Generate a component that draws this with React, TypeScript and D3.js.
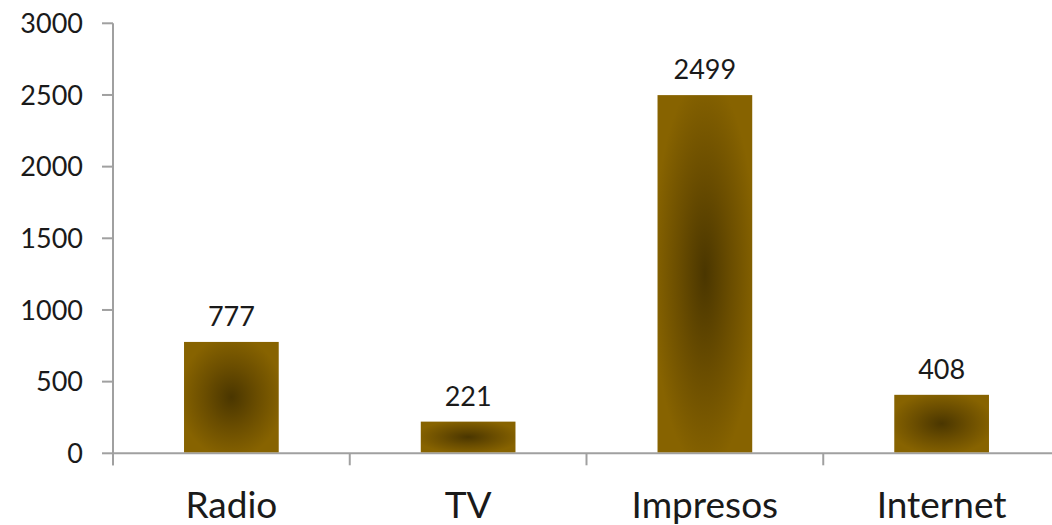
import React from "react";
import * as d3 from "d3";

const categories = ["Radio", "TV", "Impresos", "Internet"];
const values = [777, 221, 2499, 408];
const yTicks = [0, 500, 1000, 1500, 2000, 2500, 3000];

const W = 1052;
const H = 525;
const x0 = 113;
const x1 = 1060;
const yBottom = 453.3;
const yTop = 23.3;

export default function App() {
  const x = d3.scaleBand<string>().domain(categories).range([x0, x1]).paddingInner(0.6).paddingOuter(0.3);
  const y = d3.scaleLinear().domain([0, 3000]).range([yBottom, yTop]);
  const step = (x1 - x0) / categories.length;
  const font = "Lato, 'Open Sans', sans-serif";
  return (
    <svg width={W} height={H} style={{ position: "absolute", left: 0, top: 0, background: "#fff" }}>
      <defs>
        <radialGradient id="barGrad" cx="0.5" cy="0.5" r="0.55">
          <stop offset="0" stopColor="#4a3600" />
          <stop offset="0.5" stopColor="#6a4d00" />
          <stop offset="1" stopColor="#876300" />
        </radialGradient>
      </defs>
      {/* y axis */}
      <line x1={x0} x2={x0} y1={yTop} y2={yBottom + 12} stroke="#a0a0a0" strokeWidth={2} />
      {yTicks.map((t) => (
        <g key={t}>
          <line x1={102} x2={x0} y1={y(t)} y2={y(t)} stroke="#a0a0a0" strokeWidth={2} />
          <text x={83} y={y(t)} dy="0.36em" textAnchor="end" fontFamily={font} fontSize={27} fill="#1a1a1a">
            {t}
          </text>
        </g>
      ))}
      {/* x axis */}
      <line x1={x0} x2={x1} y1={yBottom} y2={yBottom} stroke="#a0a0a0" strokeWidth={2} />
      {categories.map((c, i) => (
        <line key={"t" + c} x1={x0 + step * i} x2={x0 + step * i} y1={yBottom} y2={yBottom + 12} stroke="#a0a0a0" strokeWidth={2} />
      ))}
      {categories.map((c, i) => (
        <g key={c}>
          <rect
            x={x(c)}
            y={y(values[i])}
            width={x.bandwidth()}
            height={yBottom - y(values[i]) - 1}
            fill="url(#barGrad)"
          />
          <text
            x={(x(c) as number) + x.bandwidth() / 2}
            y={y(values[i]) - 16}
            textAnchor="middle"
            fontFamily={font}
            fontSize={27}
            fill="#1a1a1a"
          >
            {values[i]}
          </text>
          <text
            x={(x(c) as number) + x.bandwidth() / 2}
            y={518}
            textAnchor="middle"
            fontFamily={font}
            fontSize={37}
            fill="#1a1a1a"
          >
            {c}
          </text>
        </g>
      ))}
    </svg>
  );
}
